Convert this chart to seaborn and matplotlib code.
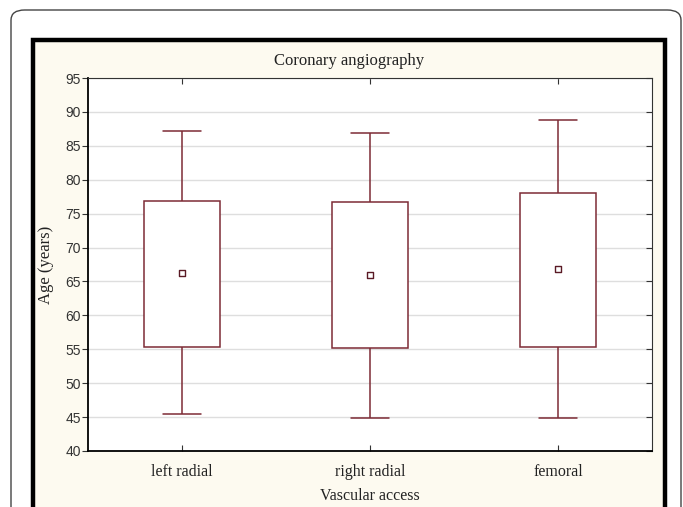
import pandas as pd
import matplotlib.pyplot as plt
import matplotlib.lines as mlines
import seaborn as sns
from matplotlib.patches import FancyBboxPatch, Rectangle

# Values (age in years)
groups = ['left radial', 'right radial', 'femoral']
whisker_low = [45.4, 44.8, 44.8]
q1 = [55.4, 55.2, 55.4]
mean = [66.2, 66.0, 66.8]
q3 = [76.9, 76.7, 78.1]
whisker_high = [87.2, 86.9, 88.8]

# Five values per group so the box/whisker positions come out exactly
rows = []
for i, g in enumerate(groups):
    for v in [whisker_low[i], q1[i], mean[i], q3[i], whisker_high[i]]:
        rows.append({'access': g, 'age': v})
df = pd.DataFrame(rows)
df_mean = pd.DataFrame({'access': groups, 'age': mean})

sns.set_style("whitegrid")
plt.rcParams['font.family'] = ['Liberation Sans', 'DejaVu Sans']

maroon = '#7d2b35'
cream = '#fdfaf0'
W, H = 683, 507

fig = plt.figure(figsize=(6.83, 5.07), dpi=100)
fig.patch.set_facecolor('white')

# outer rounded border and black frame (behind the axes)
outer = FancyBboxPatch((11 / W, -0.1), (681 - 11) / W, 1.1 - 10 / H,
                       boxstyle="round,pad=0,rounding_size=0.02",
                       transform=fig.transFigure, fc='white', ec='#444444',
                       lw=1.0, zorder=-10)
fig.patches.append(outer)
frame = Rectangle((33 / W, -0.1), (664.5 - 33) / W, 1.1 - 39.5 / H,
                  transform=fig.transFigure, fc=cream, ec='black', lw=3.2,
                  zorder=-5)
fig.patches.append(frame)

ax = fig.add_axes([88 / W, 1 - 451 / H, (652 - 88) / W, (451 - 78) / H])
ax.set_zorder(1)
ax.set_facecolor('white')

sns.boxplot(data=df, x='access', y='age', order=groups, ax=ax,
            whis=(0, 100), width=0.4, showfliers=False,
            color='white', linecolor=maroon, linewidth=1.1,
            medianprops={'visible': False})
sns.stripplot(data=df_mean, x='access', y='age', order=groups, ax=ax,
              jitter=False, marker='s', size=4.2, color='white',
              edgecolor='#5a1a25', linewidth=1.0)

ax.set_xlim(-0.5, 2.5)
ax.set_ylim(40, 95)
ax.set_yticks(range(40, 96, 5))

ax.grid(axis='y', color='#dedede', lw=1.0)
ax.grid(axis='x', visible=False)
for s in ['left', 'bottom']:
    ax.spines[s].set_color('black')
    ax.spines[s].set_linewidth(1.3)
for s in ['top', 'right']:
    ax.spines[s].set_color('#333333')
    ax.spines[s].set_linewidth(0.8)

ax.tick_params(axis='y', left=True, right=True, direction='out', length=4,
               color='#333333', labelsize=10, labelcolor='#333333', pad=1)
ax.tick_params(axis='x', bottom=True, top=True, direction='in', length=4,
               color='#333333', pad=9)
# right-hand ticks point inward
for t in ax.yaxis.get_major_ticks():
    t.tick2line.set_marker(mlines.TICKLEFT)
for lbl in ax.get_xticklabels():
    lbl.set_fontfamily('Liberation Serif')
    lbl.set_fontsize(11.5)
    lbl.set_color('#222222')

ax.set_xlabel('Vascular access', family='Liberation Serif', fontsize=11.5,
              color='#222222', labelpad=6)
ax.set_ylabel('Age (years)', family='Liberation Serif', fontsize=12,
              color='#222222')
ax.yaxis.set_label_coords(-(88 - 54) / (652 - 88), 0.5)

fig.text(349 / W, 1 - 61 / H, 'Coronary angiography', family='Liberation Serif',
         fontsize=12, color='#222222', ha='center', va='center')

plt.savefig('out.png', dpi=100)
